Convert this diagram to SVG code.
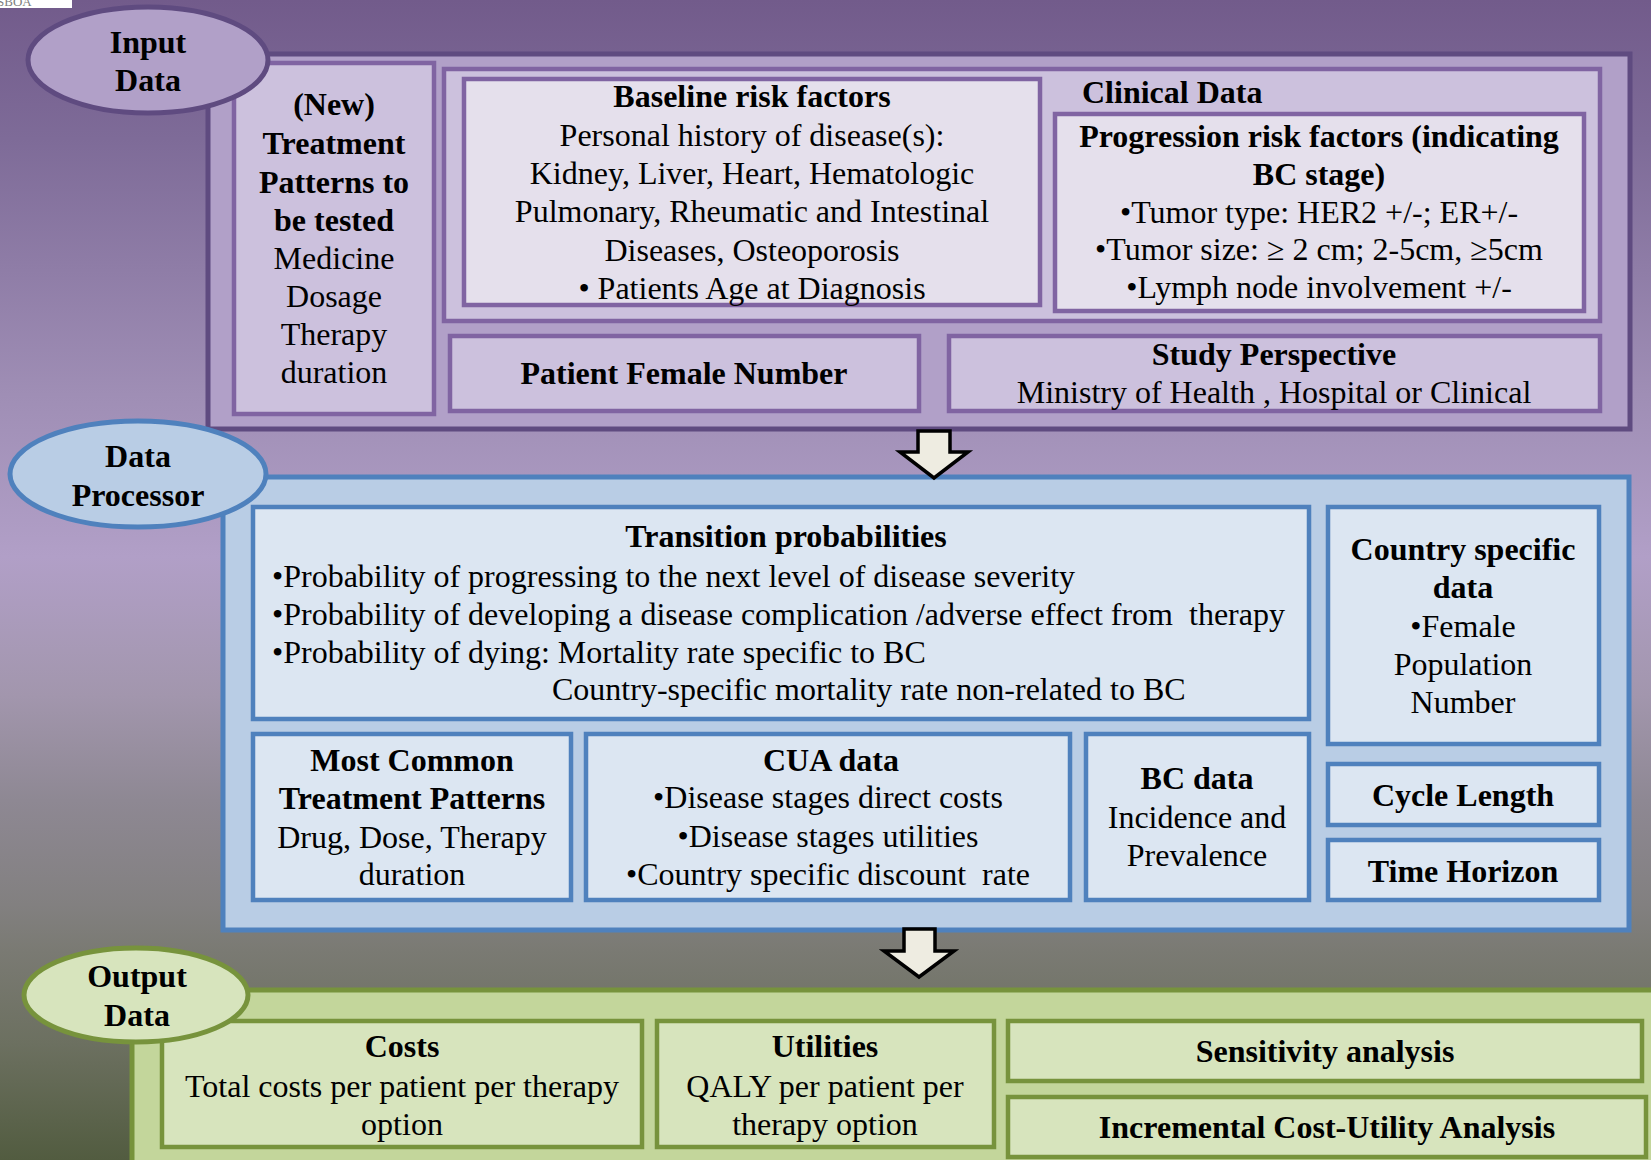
<svg xmlns="http://www.w3.org/2000/svg" width="1651" height="1160" viewBox="0 0 1651 1160">
<defs>
<linearGradient id="bg" x1="0" y1="0" x2="0" y2="1">
<stop offset="0" stop-color="#725B8B"/>
<stop offset="0.12" stop-color="#7E6B98"/>
<stop offset="0.34" stop-color="#9F8EB5"/>
<stop offset="0.48" stop-color="#B19FC7"/>
<stop offset="0.6" stop-color="#A296AD"/>
<stop offset="0.69" stop-color="#8E8893"/>
<stop offset="0.78" stop-color="#828080"/>
<stop offset="0.82" stop-color="#7A7A73"/>
<stop offset="0.9" stop-color="#6C7060"/>
<stop offset="1" stop-color="#525C40"/>
</linearGradient>
<style>
text{font-family:"Liberation Serif","Times New Roman",serif;font-size:32px;fill:#000;white-space:pre}
.b{font-weight:bold}
.c{text-anchor:middle}
.pOut{fill:#B1A0C8;stroke:#5F4B80;stroke-width:5}
.pIn{fill:#CCC1DD;stroke:#8064A2;stroke-width:4.5}
.pLt{fill:#E5E0EC;stroke:#8064A2;stroke-width:4.5}
.bOut{fill:#B9CDE5;stroke:#4F81BD;stroke-width:5}
.bIn{fill:#DCE6F2;stroke:#4F81BD;stroke-width:4.5}
.gOut{fill:#C3D69B;stroke:#77933C;stroke-width:5}
.gIn{fill:#D7E4BD;stroke:#77933C;stroke-width:4.5}
.arrow{fill:#EEECE1;stroke:#000;stroke-width:3.5;stroke-linejoin:miter}
</style>
</defs>
<rect x="0" y="0" width="1651" height="1160" fill="url(#bg)"/>
<rect x="0" y="0" width="72" height="8" fill="#FFFFFF"/>
<text x="-3" y="6" style="font-size:13px;fill:#808080">SBOA</text>

<!-- INPUT DATA -->
<g id="input-section">
<rect class="pOut" x="208" y="54" width="1422" height="375"/>
</g>
<g id="new-treatment">
<rect class="pIn" x="234" y="63" width="200" height="351"/>
<text class="c b" x="334" y="115">(New)</text>
<text class="c b" x="334" y="154">Treatment</text>
<text class="c b" x="334" y="193">Patterns to</text>
<text class="c b" x="334" y="231">be tested</text>
<text class="c" x="334" y="269">Medicine</text>
<text class="c" x="334" y="307">Dosage</text>
<text class="c" x="334" y="345">Therapy</text>
<text class="c" x="334" y="383">duration</text>
</g>
<g id="clinical-data">
<rect class="pIn" x="444" y="69" width="1156" height="252"/>
<text class="b" x="1082" y="103">Clinical Data</text>
</g>
<g id="baseline-risk">
<rect class="pLt" x="464" y="79" width="576" height="226"/>
<text class="c b" x="752" y="107">Baseline risk factors</text>
<text class="c" x="752" y="146">Personal history of disease(s):</text>
<text class="c" x="752" y="184">Kidney, Liver, Heart, Hematologic</text>
<text class="c" x="752" y="222">Pulmonary, Rheumatic and Intestinal</text>
<text class="c" x="752" y="261">Diseases, Osteoporosis</text>
<text class="c" x="752" y="299">• Patients Age at Diagnosis</text>
</g>
<g id="progression-risk">
<rect class="pLt" x="1055" y="114" width="529" height="197"/>
<text class="c b" x="1319" y="147">Progression risk factors (indicating</text>
<text class="c b" x="1319" y="185">BC stage)</text>
<text class="c" x="1319" y="223">•Tumor type: HER2 +/-; ER+/-</text>
<text class="c" x="1319" y="260">•Tumor size: ≥ 2 cm; 2-5cm, ≥5cm</text>
<text class="c" x="1319" y="298">•Lymph node involvement +/-</text>
</g>
<g id="patient-female-number">
<rect class="pIn" x="450" y="336" width="469" height="75"/>
<text class="c b" x="684" y="384">Patient Female Number</text>
</g>
<g id="study-perspective">
<rect class="pIn" x="949" y="336" width="651" height="75"/>
<text class="c b" x="1274" y="365">Study Perspective</text>
<text class="c" x="1274" y="403">Ministry of Health , Hospital or Clinical</text>
</g>
<g id="input-label">
<ellipse class="pOut" cx="148" cy="60" rx="120" ry="53"/>
<text class="c b" x="148" y="53">Input</text>
<text class="c b" x="148" y="91">Data</text>
</g>

<!-- DATA PROCESSOR -->
<g id="processor-section">
<rect class="bOut" x="223" y="477" width="1406" height="453"/>
</g>
<g id="transition-probabilities">
<rect class="bIn" x="253" y="507" width="1056" height="212"/>
<text class="c b" x="786" y="547">Transition probabilities</text>
<text x="272" y="587">•Probability of progressing to the next level of disease severity</text>
<text x="272" y="625">•Probability of developing a disease complication /adverse effect from  therapy</text>
<text x="272" y="663">•Probability of dying: Mortality rate specific to BC</text>
<text x="552" y="700">Country-specific mortality rate non-related to BC</text>
</g>
<g id="country-specific">
<rect class="bIn" x="1328" y="507" width="271" height="237"/>
<text class="c b" x="1463" y="560">Country specific</text>
<text class="c b" x="1463" y="598">data</text>
<text class="c" x="1463" y="637">•Female</text>
<text class="c" x="1463" y="675">Population</text>
<text class="c" x="1463" y="713">Number</text>
</g>
<g id="cycle-length">
<rect class="bIn" x="1328" y="764" width="271" height="61"/>
<text class="c b" x="1463" y="806">Cycle Length</text>
</g>
<g id="time-horizon">
<rect class="bIn" x="1328" y="840" width="271" height="60"/>
<text class="c b" x="1463" y="882">Time Horizon</text>
</g>
<g id="treatment-patterns">
<rect class="bIn" x="253" y="734" width="318" height="166"/>
<text class="c b" x="412" y="771">Most Common</text>
<text class="c b" x="412" y="809">Treatment Patterns</text>
<text class="c" x="412" y="848">Drug, Dose, Therapy</text>
<text class="c" x="412" y="885">duration</text>
</g>
<g id="cua-data">
<rect class="bIn" x="586" y="734" width="484" height="166"/>
<text class="c b" x="831" y="771">CUA data</text>
<text class="c" x="828" y="808">•Disease stages direct costs</text>
<text class="c" x="828" y="847">•Disease stages utilities</text>
<text class="c" x="828" y="885">•Country specific discount  rate</text>
</g>
<g id="bc-data">
<rect class="bIn" x="1086" y="734" width="223" height="166"/>
<text class="c b" x="1197" y="789">BC data</text>
<text class="c" x="1197" y="828">Incidence and</text>
<text class="c" x="1197" y="866">Prevalence</text>
</g>
<g id="processor-label">
<ellipse class="bOut" cx="138" cy="474" rx="128" ry="53"/>
<text class="c b" x="138" y="467">Data</text>
<text class="c b" x="138" y="506">Processor</text>
</g>

<!-- OUTPUT DATA -->
<g id="output-section">
<rect class="gOut" x="132" y="990" width="1530" height="190"/>
</g>
<g id="costs">
<rect class="gIn" x="162" y="1021" width="480" height="126"/>
<text class="c b" x="402" y="1057">Costs</text>
<text class="c" x="402" y="1097">Total costs per patient per therapy</text>
<text class="c" x="402" y="1135">option</text>
</g>
<g id="utilities">
<rect class="gIn" x="657" y="1021" width="337" height="126"/>
<text class="c b" x="825" y="1057">Utilities</text>
<text class="c" x="825" y="1097">QALY per patient per</text>
<text class="c" x="825" y="1135">therapy option</text>
</g>
<g id="sensitivity-analysis">
<rect class="gIn" x="1008" y="1021" width="634" height="60"/>
<text class="c b" x="1325" y="1062">Sensitivity analysis</text>
</g>
<g id="icua">
<rect class="gIn" x="1008" y="1097" width="638" height="60"/>
<text class="c b" x="1327" y="1138">Incremental Cost-Utility Analysis</text>
</g>
<g id="output-label">
<ellipse class="gIn" cx="136" cy="995" rx="112" ry="47" style="stroke-width:5"/>
<text class="c b" x="137" y="987">Output</text>
<text class="c b" x="137" y="1026">Data</text>
</g>

<!-- CONNECTORS -->
<g id="connectors">
<path class="arrow" d="M918,431 H950 V452 H968 L934,478 L900,452 H918 Z"/>
<path class="arrow" d="M904,929 H935 V951 H954 L919,977 L884,951 H904 Z"/>
</g>
</svg>
